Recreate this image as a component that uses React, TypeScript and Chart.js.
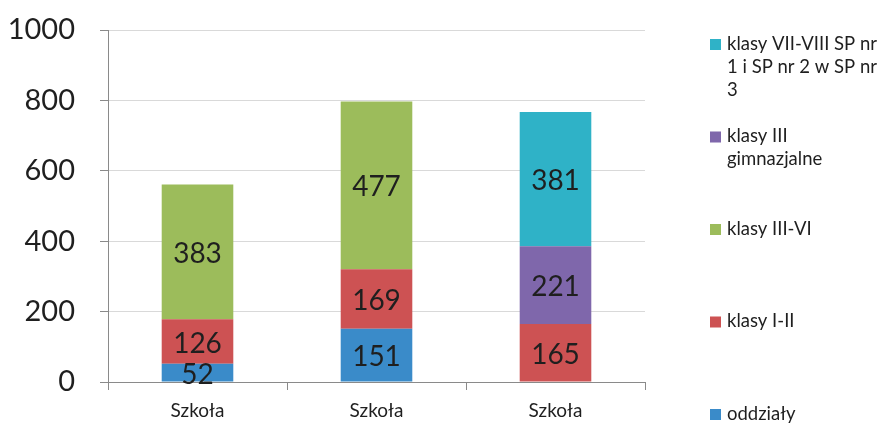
import React, { useEffect, useRef } from "react";
import { Chart, registerables } from "chart.js";

Chart.register(...registerables);

const categories = ["Szkoła", "Szkoła", "Szkoła"];
const oddzialy = [52, 151, null];
const klasyI_II = [126, 169, 165];
const klasyIII_VI = [383, 477, null];
const klasyIIIgim = [null, null, 221];
const klasyVII_VIII = [null, null, 381];
const yTicks = [0, 200, 400, 600, 800, 1000];

const seriesLabels = [
  "oddziały",
  "klasy I-II",
  "klasy III-VI",
  "klasy III gimnazjalne",
  "klasy VII-VIII SP nr 1 i SP nr 2 w SP nr 3",
];
const legendLines = [
  ["oddziały"],
  ["klasy I-II"],
  ["klasy III-VI"],
  ["klasy III", "gimnazjalne"],
  ["klasy VII-VIII SP nr", "1 i SP nr 2 w SP nr", "3"],
];
const seriesColors = ["#3a8bc9", "#cd5253", "#9cbc5b", "#7f67ab", "#2fb2c7"];

const FONT = "Lato, 'Open Sans', sans-serif";

const dataLabelPlugin = {
  id: "dataLabels",
  afterDatasetsDraw(chart: any) {
    const ctx = chart.ctx;
    ctx.save();
    ctx.font = `28px ${FONT}`;
    ctx.fillStyle = "#1f1f1f";
    ctx.textAlign = "center";
    ctx.textBaseline = "middle";
    chart.data.datasets.forEach((ds: any, di: number) => {
      const meta = chart.getDatasetMeta(di);
      meta.data.forEach((el: any, i: number) => {
        const v = ds.data[i];
        if (v === null || v === undefined) return;
        ctx.fillText(String(v), el.x, (el.y + el.base) / 2 + 2);
      });
    });
    ctx.restore();
  },
};

const legendPlugin = {
  id: "customLegend",
  afterDraw(chart: any) {
    const ctx = chart.ctx;
    ctx.save();
    ctx.font = `18.5px ${FONT}`;
    ctx.textBaseline = "middle";
    ctx.textAlign = "left";
    const n = chart.data.datasets.length;
    for (let k = 0; k < n; k++) {
      const di = n - 1 - k;
      const ds = chart.data.datasets[di];
      const y0 = 44 + k * 92.5;
      ctx.fillStyle = ds.backgroundColor;
      ctx.fillRect(710, y0 - 5, 11, 11);
      ctx.fillStyle = "#1f1f1f";
      legendLines[di].forEach((ln, li) => ctx.fillText(ln, 727, y0 + li * 23));
    }
    ctx.restore();
  },
};

export default function App() {
  const ref = useRef<HTMLCanvasElement>(null);
  useEffect(() => {
    if (!ref.current) return;
    const seriesData = [oddzialy, klasyI_II, klasyIII_VI, klasyIIIgim, klasyVII_VIII];
    const chart = new Chart(ref.current, {
      type: "bar",
      data: {
        labels: categories,
        datasets: seriesData.map((d, i) => ({
          label: seriesLabels[i],
          data: d,
          backgroundColor: seriesColors[i],
          borderWidth: 0,
          barPercentage: 0.4,
          categoryPercentage: 1,
        })),
      },
      options: {
        animation: false,
        responsive: false,
        maintainAspectRatio: false,
        layout: { padding: { left: 0, right: 238, top: 30, bottom: 0 } },
        plugins: { legend: { display: false }, tooltip: { enabled: false } },
        scales: {
          x: {
            stacked: true,
            grid: {
              drawOnChartArea: false,
              drawTicks: true,
              tickLength: 8,
              tickColor: "#8a8a8a",
              offset: true,
            },
            border: { color: "#8a8a8a", width: 1 },
            ticks: { color: "#1f1f1f", font: { family: FONT, size: 19 }, padding: 9 },
            afterFit: (s: any) => {
              s.height = 42;
              s.paddingLeft = 0;
              s.paddingRight = 0;
            },
          },
          y: {
            stacked: true,
            min: 0,
            max: 1000,
            afterBuildTicks: (s: any) => {
              s.ticks = yTicks.map((v) => ({ value: v }));
            },
            grid: {
              color: "#d9d9d9",
              drawTicks: true,
              tickLength: 8,
              tickColor: "#8a8a8a",
            },
            border: { color: "#8a8a8a", width: 1 },
            ticks: {
              color: "#1f1f1f",
              font: { family: FONT, size: 29 },
              padding: 25,
              callback: (v: any) => String(v),
            },
            afterFit: (s: any) => {
              s.width = 108;
              s.paddingTop = 0;
              s.paddingBottom = 0;
            },
          },
        },
      },
      plugins: [dataLabelPlugin, legendPlugin],
    });
    return () => chart.destroy();
  }, []);
  return (
    <div style={{ position: "fixed", left: 0, top: 0, width: 883, height: 424, background: "#fff" }}>
      <canvas ref={ref} width={883} height={424} style={{ width: 883, height: 424 }} />
    </div>
  );
}
